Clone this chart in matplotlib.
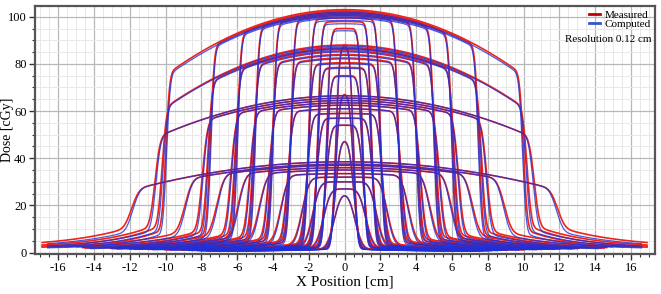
import numpy as np
import matplotlib
matplotlib.use('Agg')
import matplotlib.pyplot as plt
from matplotlib.ticker import MultipleLocator
from math import erf

plt.rcParams['font.family'] = ['Liberation Serif', 'DejaVu Serif']
plt.rcParams['axes.unicode_minus'] = False

# field half widths at the shallowest depth (cm)
field_half = [0.5, 1.0, 1.5, 2.0, 3.0, 4.0, 5.0, 6.0, 7.5, 10.0]
# geometric magnification of the field edge at each of the four depths
depth_scale = [1.00, 1.02, 1.06, 1.19]
# central axis dose for every field, one list per depth (cGy)
dose_A = [88, 95, 98, 99.5, 100.5, 101, 101.5, 102, 102.5, 103]
dose_B = [67, 75, 78.5, 80.5, 82.5, 84, 85.5, 86.5, 87, 88]
dose_C = [47, 54, 57, 59, 61, 62.5, 63.5, 64.5, 65.5, 66.5]
dose_D = [24, 27, 30, 32, 33.5, 35, 36, 37, 37.5, 38.5]
# relative fall-off of the dome towards the field edge (per cm^2)
dome_curv = [0.0027, 0.0030, 0.0024, 0.0022]
# penumbra width (cm)
penumbra = [0.24, 0.27, 0.32, 0.45]
# out-of-field tail: fraction of central dose next to the edge, decay length (cm)
tail_frac = [0.08, 0.11, 0.14, 0.21]
tail_len = [2.5, 2.8, 3.2, 3.6]
# computed/measured ratio of the central dose at each depth
calc_ratio = [0.99, 0.995, 1.0, 1.0]

doses = [dose_A, dose_B, dose_C, dose_D]
verf = np.vectorize(erf)


def profile(w, c, a, s, tf, tl, ext, calc=False):
        x = np.linspace(-ext, ext, 700)
        p = 0.5 * (verf((w - x) / s) + verf((w + x) / s))
        p0 = erf(w / s)
        inner = c * (1 - a * x ** 2) * p / p0
        d = np.clip(np.abs(x) - w, 0, None)
        t = tf * c * (w / 10.0) ** 0.6 * np.exp(-d / tl) + 0.6 + 1.2 * w / 10.0
        if calc:
                t = t * 0.85
        return x, inner + (1 - p) * t


fig = plt.figure(figsize=(6.61, 2.94), dpi=100)
ax = fig.add_axes([0.053, 0.136, 0.938, 0.844])

curves_m = []
curves_c = []
for k in range(4):
        for i, h in enumerate(field_half):
                w = h * depth_scale[k]
                c = doses[k][i]
                ext = min(w + 7.0, 16.9)
                curves_m.append(profile(w, c, dome_curv[k], penumbra[k], tail_frac[k], tail_len[k], ext))
                curves_c.append(profile(w * 0.995, c * calc_ratio[k], dome_curv[k], penumbra[k] * 0.95,
                                        tail_frac[k], tail_len[k], ext - 0.3, calc=True))

red = '#ee2418'
blue = '#1f2fd8'
for x, y in curves_m:
        ax.plot(x, y, color=red, lw=1.2)
for x, y in curves_c:
        ax.plot(x, y, color=blue, lw=0.9, alpha=0.8)

ax.set_xlim(-17.3, 17.35)
ax.set_ylim(-0.6, 104.6)
ax.xaxis.set_major_locator(MultipleLocator(2))
ax.xaxis.set_minor_locator(MultipleLocator(0.5))
ax.yaxis.set_major_locator(MultipleLocator(20))
ax.yaxis.set_minor_locator(MultipleLocator(5))
ax.grid(which='major', color='#b8b8b8', lw=0.9)
ax.grid(which='minor', color='#e8e8e8', lw=0.7)
ax.set_axisbelow(True)
for sp in ax.spines.values():
        sp.set_color('#555555')
        sp.set_linewidth(1.6)
ax.tick_params(which='major', length=4, width=1, labelsize=9, color='#333333', pad=2)
ax.tick_params(which='minor', length=2, width=0.8, color='#333333')

ax.set_xlabel('X Position [cm]', fontsize=11, labelpad=1)
ax.set_ylabel('Dose [cGy]', fontsize=10, va='center')
ax.yaxis.set_label_coords(-0.045, 0.5)

ax.plot([], [], color='#c00000', lw=2, label='Measured')
ax.plot([], [], color='#3355cc', lw=2, label='Computed')
ax.legend(loc='upper right', frameon=False, fontsize=8, handlelength=1.0,
          handletextpad=0.4, labelspacing=0.0, borderpad=0.15, borderaxespad=0.2)
ax.text(0.995, 0.865, 'Resolution 0.12 cm', transform=ax.transAxes, ha='right', va='center', fontsize=8)

fig.savefig('out.png', dpi=100)
